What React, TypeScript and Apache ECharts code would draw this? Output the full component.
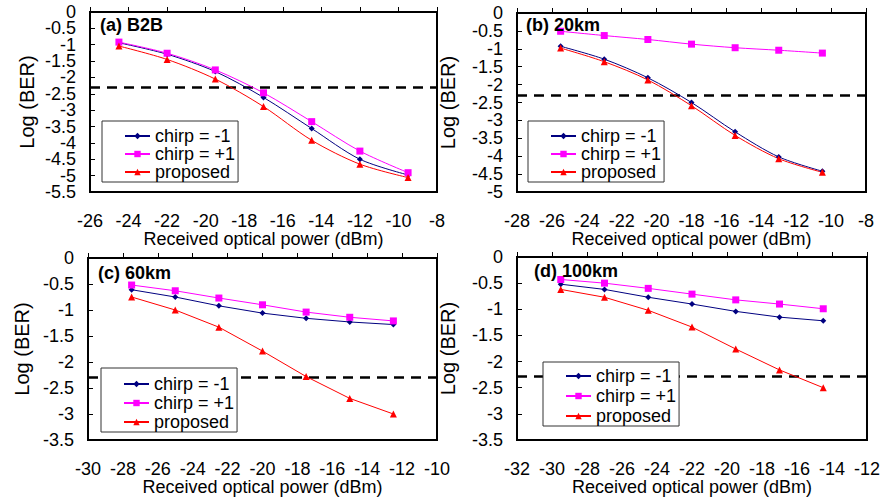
import React, { useEffect, useRef } from "react";
import * as echarts from "echarts";

const FONT = '"Liberation Sans", Arial, sans-serif';

// ---- data ----
const SERIES_NAMES = ["chirp = -1", "chirp = +1", "proposed"];
const THRESHOLD = -2.29;

const powerA = [-24.5, -22, -19.5, -17, -14.5, -12, -9.5];
const chirpMinusA = [-0.94, -1.29, -1.82, -2.61, -3.56, -4.5, -4.98];
const chirpPlusA = [-0.92, -1.26, -1.77, -2.47, -3.35, -4.25, -4.91];
const proposedA = [-1.04, -1.45, -2.05, -2.89, -3.92, -4.65, -5.06];

const powerB = [-25.5, -23, -20.5, -18, -15.5, -13, -10.5];
const chirpMinusB = [-0.93, -1.29, -1.81, -2.5, -3.32, -4.02, -4.42];
const chirpPlusB = [-0.51, -0.63, -0.74, -0.87, -0.97, -1.04, -1.12];
const proposedB = [-0.98, -1.36, -1.87, -2.59, -3.42, -4.07, -4.45];

const powerC = [-27.5, -25, -22.5, -20, -17.5, -15, -12.5];
const chirpMinusC = [-0.61, -0.75, -0.92, -1.06, -1.16, -1.23, -1.28];
const chirpPlusC = [-0.52, -0.63, -0.77, -0.9, -1.04, -1.14, -1.21];
const proposedC = [-0.75, -1.0, -1.33, -1.79, -2.28, -2.7, -3.0];

const powerD = [-29.5, -27, -24.5, -22, -19.5, -17, -14.5];
const chirpMinusD = [-0.52, -0.62, -0.77, -0.9, -1.04, -1.15, -1.22];
const chirpPlusD = [-0.43, -0.5, -0.6, -0.71, -0.82, -0.9, -0.99];
const proposedD = [-0.62, -0.77, -1.02, -1.34, -1.76, -2.16, -2.5];

const TITLES = ["(a) B2B", "(b) 20km", "(c) 60km", "(d) 100km"];
const X_RANGES = [[-26, -8], [-28, -8], [-30, -10], [-32, -12]];
const Y_TICKS_A = [0, -0.5, -1, -1.5, -2, -2.5, -3, -3.5, -4, -4.5, -5, -5.5];
const Y_TICKS_B = [0, -0.5, -1, -1.5, -2, -2.5, -3, -3.5, -4, -4.5, -5];
const Y_TICKS_CD = [0, -0.5, -1, -1.5, -2, -2.5, -3, -3.5];
const Y_TICKS = [Y_TICKS_A, Y_TICKS_B, Y_TICKS_CD, Y_TICKS_CD];
const X_NAME = "Received optical power (dBm)";
const Y_NAME = "Log (BER)";

// ---- layout / styles ----
const LAYOUT = [
  { grid: { left: 90, top: 12, width: 347, height: 180 }, legend: { left: 102, top: 121 }, legendGap: 0, legendPadTop: 6, yNameGap: 53, title: [100, 25], smooth: true },
  { grid: { left: 517, top: 13, width: 349, height: 179 }, legend: { left: 528, top: 121 }, legendGap: 0, legendPadTop: 6, yNameGap: 59, title: [526, 25], smooth: true },
  { grid: { left: 88, top: 258, width: 349, height: 182 }, legend: { left: 101, top: 368 }, legendGap: 1, legendPadTop: 7, yNameGap: 56, title: [98, 273], smooth: false },
  { grid: { left: 517, top: 257, width: 350, height: 183 }, legend: { left: 543, top: 362 }, legendGap: 2, legendPadTop: 5, yNameGap: 59, title: [534, 271], smooth: false },
];

const STYLES = [
  { color: "#000080", symbol: "diamond", symbolSize: 6 },
  { color: "#FF00FF", symbol: "rect", symbolSize: 7 },
  { color: "#FF0000", symbol: "triangle", symbolSize: 7 },
];

const DATA = [
  { power: powerA, values: [chirpMinusA, chirpPlusA, proposedA] },
  { power: powerB, values: [chirpMinusB, chirpPlusB, proposedB] },
  { power: powerC, values: [chirpMinusC, chirpPlusC, proposedC] },
  { power: powerD, values: [chirpMinusD, chirpPlusD, proposedD] },
];

const labelBase = {
  fontSize: 18,
  color: "#000",
  fontFamily: FONT,
  hideOverlap: false,
};

function buildOption() {
  const grids: any[] = [];
  const xAxes: any[] = [];
  const yAxes: any[] = [];
  const series: any[] = [];
  const legends: any[] = [];
  const graphics: any[] = [];

  DATA.forEach((panel, i) => {
    const L = LAYOUT[i];
    const ticks = Y_TICKS[i];
    const yMin = Math.min(...ticks);
    const yMax = Math.max(...ticks);
    const evenTicks = ticks.filter((_, j) => j % 2 === 0);
    const oddTicks = ticks.filter((_, j) => j % 2 === 1);

    grids.push({
      ...L.grid,
      show: true,
      borderColor: "#000",
      borderWidth: 2,
      backgroundColor: "transparent",
      containLabel: false,
    });
    xAxes.push({
      type: "value",
      gridIndex: i,
      min: X_RANGES[i][0],
      max: X_RANGES[i][1],
      interval: 2,
      name: X_NAME,
      nameLocation: "middle",
      nameGap: 38,
      nameMoveOverlap: false,
      nameTextStyle: { fontSize: 18, color: "#000", fontFamily: FONT },
      axisLine: { show: false },
      axisTick: { show: true, inside: true, length: 5, lineStyle: { color: "#000", width: 1 } },
      axisLabel: { ...labelBase, margin: 20, showMinLabel: true, showMaxLabel: true },
      splitLine: { show: false },
    });
    // main y axis (data + ticks + even labels)
    yAxes.push({
      type: "value",
      gridIndex: i,
      position: "left",
      min: yMin,
      max: yMax,
      interval: 0.5,
      name: Y_NAME,
      nameLocation: "middle",
      nameGap: L.yNameGap,
      nameMoveOverlap: false,
      nameTextStyle: { fontSize: 20, color: "#000", fontFamily: FONT },
      axisLine: { show: false },
      axisTick: { show: true, inside: true, length: 5, lineStyle: { color: "#000", width: 1 } },
      axisLabel: { ...labelBase, margin: 14, customValues: evenTicks },
      splitLine: { show: false },
    });
    // companion y axis carrying the odd labels
    yAxes.push({
      type: "value",
      gridIndex: i,
      position: "left",
      offset: 0,
      min: yMin,
      max: yMax,
      interval: 0.5,
      axisLine: { show: false },
      axisTick: { show: false },
      axisLabel: { ...labelBase, margin: 14, customValues: oddTicks },
      splitLine: { show: false },
    });
    SERIES_NAMES.forEach((name, k) => {
      const st = STYLES[k];
      const s: any = {
        type: "line",
        name,
        xAxisIndex: i,
        yAxisIndex: 2 * i,
        data: panel.power.map((p, j) => [p, panel.values[k][j]]),
        smooth: L.smooth ? 0.3 : false,
        symbol: st.symbol,
        symbolSize: st.symbolSize,
        showAllSymbol: true,
        lineStyle: { color: st.color, width: 1 },
        itemStyle: { color: st.color },
        z: 3,
      };
      if (k === 0) {
        s.markLine = {
          silent: true,
          symbol: ["none", "none"],
          label: { show: false },
          lineStyle: { color: "#000", width: 2.5, type: [10, 7] },
          data: [{ yAxis: THRESHOLD }],
          z: 2,
        };
      }
      series.push(s);
    });
    legends.push({
      orient: "vertical",
      left: L.legend.left,
      top: L.legend.top,
      data: SERIES_NAMES,
      backgroundColor: "#fff",
      borderColor: "#333",
      borderWidth: 1,
      borderRadius: 0,
      padding: [L.legendPadTop, 3, 1, 22],
      itemGap: L.legendGap,
      itemWidth: 25,
      itemHeight: 8,
      selectedMode: false,
      textStyle: { fontSize: 18, color: "#000", fontFamily: FONT, padding: 0 },
      z: 10,
    });
    graphics.push({
      type: "text",
      x: L.title[0],
      y: L.title[1],
      z: 20,
      style: {
        text: TITLES[i],
        font: `bold 18px ${FONT}`,
        fill: "#000",
        verticalAlign: "middle",
        align: "left",
      },
    });
  });

  return {
    animation: false,
    backgroundColor: "#fff",
    textStyle: { fontFamily: FONT },
    grid: grids,
    xAxis: xAxes,
    yAxis: yAxes,
    legend: legends,
    series,
    graphic: graphics,
  };
}

export default function App() {
  const ref = useRef<HTMLDivElement>(null);
  useEffect(() => {
    if (!ref.current) return;
    const chart = echarts.init(ref.current, undefined, { renderer: "svg" });
    chart.setOption(buildOption() as any);
    return () => chart.dispose();
  }, []);
  return (
    <div
      ref={ref}
      style={{ position: "absolute", left: 0, top: 0, width: 883, height: 502 }}
    />
  );
}
